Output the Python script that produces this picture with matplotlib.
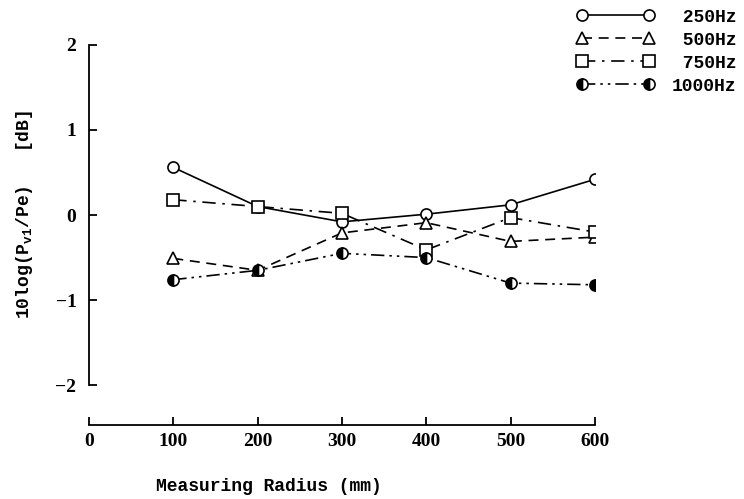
import matplotlib
matplotlib.use("Agg")
import matplotlib.pyplot as plt

radius = [100, 200, 300, 400, 500, 600]
f250 = [0.56, 0.10, -0.08, 0.01, 0.12, 0.42]
f500 = [-0.51, -0.65, -0.21, -0.09, -0.31, -0.26]
f750 = [0.18, 0.10, 0.02, -0.41, -0.03, -0.20]
f1000 = [-0.76, -0.65, -0.45, -0.50, -0.80, -0.82]
labels = [" 250Hz", " 500Hz", " 750Hz", "1000Hz"]

plt.rcParams['mathtext.default'] = 'regular'
mono = 'Liberation Mono'
serif = 'Liberation Serif'

fig = plt.figure(figsize=(7.44, 4.99), dpi=100)
ax = fig.add_axes([0.1196, 0.148, 0.680, 0.762])

common = dict(color='black', lw=1.2, ms=8, mew=1.2)
ax.plot(radius, f250, marker='o', mfc='white', ls='-', label=labels[0], **common)
ax.plot(radius, f500, marker='^', mfc='white', dashes=(6, 4), label=labels[1], **common)
ax.plot(radius, f750, marker='s', mfc='white', dashes=(8, 4, 1.5, 4), label=labels[2], **common)
ax.plot(radius, f1000, marker='o', fillstyle='left', mfc='black', markerfacecoloralt='white',
        dashes=(8, 3, 1.5, 3, 1.5, 3), label=labels[3], **common)

ax.set_xlim(0, 600)
ax.set_ylim(-2.47, 2.0)
ax.spines['top'].set_visible(False)
ax.spines['right'].set_visible(False)
ax.spines['left'].set_bounds(-2, 2)
ax.spines['left'].set_linewidth(1.3)
ax.spines['bottom'].set_linewidth(1.3)
ax.set_xticks([0, 100, 200, 300, 400, 500, 600])
ax.set_yticks([-2, -1, 0, 1, 2])
ax.tick_params(direction='in', length=6, width=1.3, labelsize=14)
ax.tick_params(axis='y', pad=9)
ax.tick_params(axis='x', pad=6)
for t in ax.get_xticklabels() + ax.get_yticklabels():
    t.set_fontfamily(serif)
    t.set_fontweight('bold')

ax.set_xlabel('Measuring Radius (mm)', fontfamily=mono, fontweight='bold', fontsize=13)
ax.xaxis.set_label_coords(0.355, -0.14)
ax.set_ylabel('10log(P$_{v1}$/Pe)   [dB]', fontfamily=mono, fontweight='bold', fontsize=13)
ax.yaxis.set_label_coords(-0.107, 0.553)

fig.legend(loc='upper right', bbox_to_anchor=(1.012, 1.015), frameon=False, numpoints=2,
           handlelength=4.3, handletextpad=1.0, labelspacing=0.33,
           prop={'family': mono, 'weight': 'bold', 'size': 13})

fig.savefig('out.png', dpi=100)
